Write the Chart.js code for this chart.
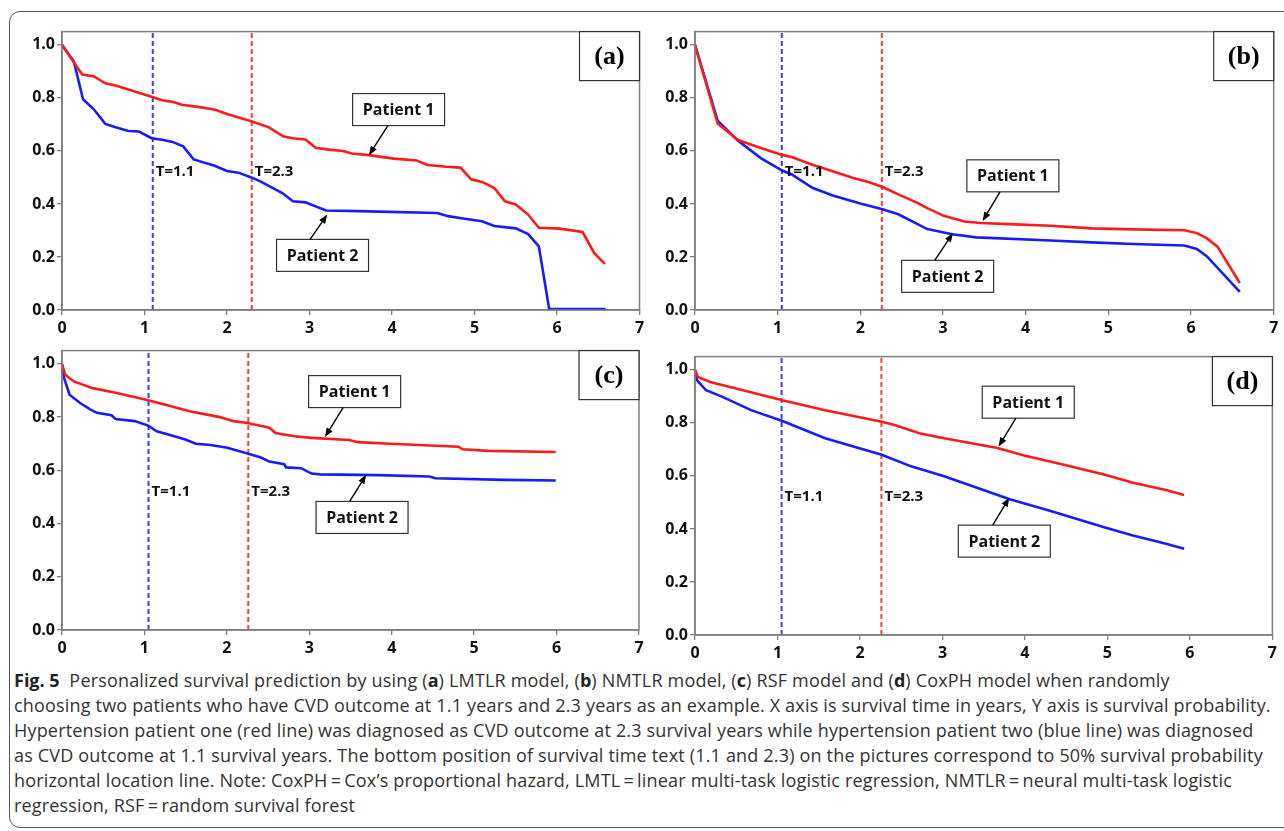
<!DOCTYPE html>
<html>
<head>
<meta charset="utf-8">
<script src="https://cdn.jsdelivr.net/npm/chart.js@4.4.0/dist/chart.umd.min.js"></script>
<style>
  html, body { margin: 0; padding: 0; background: #fff; width: 1284px; height: 831px; overflow: hidden; }
  .frame { position: absolute; left: 9px; top: 11px; width: 1300px; height: 815px; border: 1px solid #555; border-radius: 11px; }
  .panel { position: absolute; }
  .caption { position: absolute; left: 14px; top: 668px; width: 1270px; font-family: "Open Sans", sans-serif; font-size: 18px; letter-spacing: 0.18px; line-height: 25px; color: #333; white-space: nowrap; }
  .caption b { font-weight: 700; color: #222; letter-spacing: 0; }
</style>
</head>
<body>
<div class="frame"></div>
<div class="panel" style="left:10px;top:20px;width:640px;height:315px"><canvas id="ca"></canvas></div>
<div class="panel" style="left:643px;top:20px;width:641px;height:315px"><canvas id="cb"></canvas></div>
<div class="panel" style="left:10px;top:339px;width:640px;height:316px"><canvas id="cc"></canvas></div>
<div class="panel" style="left:643px;top:345px;width:641px;height:315px"><canvas id="cd"></canvas></div>
<div class="caption">
  <div><b>Fig. 5</b>&nbsp; Personalized survival prediction by using (<b>a</b>) LMTLR model, (<b>b</b>) NMTLR model, (<b>c</b>) RSF model and (<b>d</b>) CoxPH model when randomly</div>
  <div>choosing two patients who have CVD outcome at 1.1 years and 2.3 years as an example. X axis is survival time in years, Y axis is survival probability.</div>
  <div>Hypertension patient one (red line) was diagnosed as CVD outcome at 2.3 survival years while hypertension patient two (blue line) was diagnosed</div>
  <div>as CVD outcome at 1.1 survival years. The bottom position of survival time text (1.1 and 2.3) on the pictures correspond to 50% survival probability</div>
  <div>horizontal location line. Note: CoxPH&#8201;=&#8201;Cox’s proportional hazard, LMTL&#8201;=&#8201;linear multi-task logistic regression, NMTLR&#8201;=&#8201;neural multi-task logistic</div>
  <div>regression, RSF&#8201;=&#8201;random survival forest</div>
</div>
<script>
// survival curves, [time in years, survival probability]
const lmtlrP1 = [[0,1.0],[0.245,0.888],[0.383,0.882],[0.525,0.855],[0.65,0.847],[1.086,0.804],[1.214,0.791],[1.34,0.785],[1.453,0.774],[1.647,0.766],[1.86,0.755],[2.0,0.739],[2.295,0.712],[2.51,0.689],[2.68,0.655],[2.795,0.648],[2.95,0.643],[3.075,0.612],[3.23,0.605],[3.41,0.6],[3.51,0.59],[3.72,0.584],[4.02,0.571],[4.3,0.564],[4.43,0.547],[4.66,0.54],[4.83,0.537],[4.96,0.493],[5.1,0.482],[5.24,0.46],[5.37,0.41],[5.5,0.398],[5.65,0.36],[5.78,0.31],[6.03,0.307],[6.31,0.294],[6.45,0.215],[6.58,0.174]];
const lmtlrP2 = [[0,1.0],[0.143,0.938],[0.255,0.795],[0.383,0.758],[0.525,0.702],[0.65,0.689],[0.806,0.675],[0.933,0.673],[1.086,0.648],[1.214,0.642],[1.34,0.634],[1.469,0.617],[1.596,0.568],[1.85,0.544],[2.0,0.524],[2.14,0.518],[2.295,0.5],[2.41,0.484],[2.67,0.441],[2.8,0.41],[2.95,0.406],[3.2,0.375],[3.585,0.373],[4.55,0.366],[4.68,0.354],[4.86,0.345],[5.09,0.335],[5.24,0.317],[5.5,0.308],[5.65,0.286],[5.78,0.24],[5.905,0.004],[6.59,0.004]];
const nmtlrP1 = [[0,1.0],[0.274,0.703],[0.522,0.641],[0.77,0.614],[1.054,0.585],[1.17,0.577],[1.42,0.548],[1.666,0.523],[1.915,0.498],[2.11,0.482],[2.268,0.464],[2.46,0.436],[2.685,0.405],[2.81,0.384],[3.01,0.355],[3.26,0.334],[3.455,0.328],[3.8,0.324],[4.3,0.318],[4.8,0.308],[5.3,0.304],[5.92,0.301],[6.07,0.29],[6.19,0.271],[6.32,0.239],[6.59,0.102]];
const nmtlrP2 = [[0,1.0],[0.274,0.714],[0.522,0.638],[0.796,0.573],[1.054,0.526],[1.17,0.511],[1.42,0.461],[1.666,0.432],[2.01,0.401],[2.268,0.38],[2.46,0.361],[2.81,0.305],[3.11,0.286],[3.406,0.274],[4.3,0.262],[4.8,0.255],[5.3,0.249],[5.92,0.243],[6.07,0.23],[6.19,0.203],[6.59,0.068]];
const rsfP1 = [[0,1.0],[0.04,0.959],[0.143,0.934],[0.373,0.909],[0.679,0.89],[1.046,0.863],[1.29,0.844],[1.547,0.822],[1.9,0.801],[2.08,0.785],[2.25,0.778],[2.516,0.76],[2.59,0.74],[2.82,0.728],[3.03,0.722],[3.486,0.714],[3.59,0.706],[3.99,0.7],[4.81,0.689],[4.86,0.679],[5.17,0.673],[5.99,0.669]];
const rsfP2 = [[0,1.0],[0.026,0.946],[0.092,0.884],[0.22,0.853],[0.347,0.828],[0.424,0.816],[0.6,0.807],[0.65,0.793],[0.883,0.785],[1.046,0.768],[1.149,0.747],[1.29,0.735],[1.496,0.716],[1.623,0.7],[1.802,0.695],[2.006,0.685],[2.25,0.663],[2.414,0.648],[2.516,0.633],[2.695,0.623],[2.72,0.611],[2.9,0.608],[3.027,0.588],[3.13,0.585],[3.84,0.582],[4.456,0.577],[4.53,0.57],[5.375,0.564],[5.99,0.562]];
const coxP1 = [[0,1.0],[0.035,0.973],[0.184,0.954],[0.582,0.923],[1.06,0.885],[1.577,0.848],[2.264,0.804],[2.42,0.792],[2.72,0.761],[3.02,0.742],[3.667,0.705],[3.99,0.677],[4.46,0.643],[4.96,0.605],[5.31,0.574],[5.71,0.547],[5.93,0.528]];
const coxP2 = [[0,1.0],[0.025,0.96],[0.134,0.923],[0.333,0.898],[0.68,0.848],[1.06,0.807],[1.577,0.742],[2.264,0.68],[2.62,0.636],[3.02,0.599],[3.418,0.555],[3.816,0.512],[4.313,0.468],[4.96,0.406],[5.31,0.375],[5.71,0.344],[5.93,0.325]];

// outcome times marked by dashed lines
const outcomeTimesA = [1.1, 2.3];
const outcomeTimesBCD = [1.05, 2.26];
const outcomeLabels = ['T=1.1', 'T=2.3'];
const xTicks = [0, 1, 2, 3, 4, 5, 6, 7];
const yTicks = [0, 0.2, 0.4, 0.6, 0.8, 1.0];

const RED = '#ff1a1a', BLUE = '#1a1aff';

// annotation boxes: centre (x, y), arrow start x on box edge, arrow tip (x, y)
const panels = [
  { id: 'ca', tag: '(a)', p1: lmtlrP1, p2: lmtlrP2, marks: outcomeTimesA, pad: { top: 8, right: 10.5 },
    boxes: [{ text: 'Patient 1', cx: 4.08, cy: 0.756, ax: 3.95, tx: 3.72, ty: 0.584 },
            { text: 'Patient 2', cx: 3.158, cy: 0.206, ax: 3.007, tx: 3.215, ty: 0.36 }] },
  { id: 'cb', tag: '(b)', p1: nmtlrP1, p2: nmtlrP2, marks: outcomeTimesBCD, pad: { top: 8, right: 10.3 },
    boxes: [{ text: 'Patient 1', cx: 3.845, cy: 0.506, ax: 3.69, tx: 3.48, ty: 0.336 },
            { text: 'Patient 2', cx: 3.056, cy: 0.127, ax: 2.9, tx: 3.12, ty: 0.29 }] },
  { id: 'cc', tag: '(c)', p1: rsfP1, p2: rsfP2, marks: outcomeTimesBCD, pad: { top: 8.3, right: 11 },
    boxes: [{ text: 'Patient 1', cx: 3.55, cy: 0.896, ax: 3.41, tx: 3.19, ty: 0.725 },
            { text: 'Patient 2', cx: 3.64, cy: 0.423, ax: 3.49, tx: 3.69, ty: 0.583 }] },
  { id: 'cd', tag: '(d)', p1: coxP1, p2: coxP2, marks: outcomeTimesBCD, pad: { top: 8.3, right: 11.6 },
    boxes: [{ text: 'Patient 1', cx: 4.04, cy: 0.878, ax: 3.89, tx: 3.68, ty: 0.711 },
            { text: 'Patient 2', cx: 3.75, cy: 0.354, ax: 3.61, tx: 3.81, ty: 0.518 }] }
];

const toXY = arr => arr.map(p => ({ x: p[0], y: p[1] }));

const extrasPlugin = {
  id: 'extras',
  afterDatasetsDraw(chart) {
    const cfg = chart.options.plugins.extras;
    const { ctx, chartArea: a, scales: { x, y } } = chart;
    ctx.save();
    // frame round plot area
    ctx.strokeStyle = '#7f7f7f';
    ctx.lineWidth = 1.5;
    ctx.strokeRect(a.left, a.top, a.right - a.left, a.bottom - a.top);
    // T= labels
    ctx.fillStyle = '#111';
    ctx.font = 'bold 15px "Open Sans"';
    ctx.textBaseline = 'alphabetic';
    ctx.textAlign = 'left';
    cfg.marks.forEach((m, i) => {
      ctx.fillText(outcomeLabels[i], x.getPixelForValue(m) + 3, y.getPixelForValue(0.5) - 1);
    });
    // patient boxes + arrows
    cfg.boxes.forEach(b => {
      const cx = x.getPixelForValue(b.cx), cy = y.getPixelForValue(b.cy);
      const w = 92, h = 32;
      ctx.fillStyle = '#fff';
      ctx.fillRect(cx - w / 2, cy - h / 2, w, h);
      ctx.strokeStyle = '#333';
      ctx.lineWidth = 1.2;
      ctx.strokeRect(cx - w / 2, cy - h / 2, w, h);
      ctx.fillStyle = '#111';
      ctx.font = 'bold 16px "Open Sans"';
      ctx.textAlign = 'center';
      ctx.textBaseline = 'middle';
      ctx.fillText(b.text, cx, cy + 1);
      const tx = x.getPixelForValue(b.tx), ty = y.getPixelForValue(b.ty);
      const sx = x.getPixelForValue(b.ax), sy = ty > cy ? cy + h / 2 : cy - h / 2;
      const ang = Math.atan2(ty - sy, tx - sx);
      ctx.strokeStyle = '#000';
      ctx.lineWidth = 1.4;
      ctx.beginPath();
      ctx.moveTo(sx, sy);
      ctx.lineTo(tx - 7 * Math.cos(ang), ty - 7 * Math.sin(ang));
      ctx.stroke();
      ctx.fillStyle = '#000';
      ctx.beginPath();
      ctx.moveTo(tx, ty);
      ctx.lineTo(tx - 9 * Math.cos(ang) + 3.5 * Math.sin(ang), ty - 9 * Math.sin(ang) - 3.5 * Math.cos(ang));
      ctx.lineTo(tx - 9 * Math.cos(ang) - 3.5 * Math.sin(ang), ty - 9 * Math.sin(ang) + 3.5 * Math.cos(ang));
      ctx.closePath();
      ctx.fill();
    });
    // panel tag box in top right corner
    const bw = 60, bh = 49;
    ctx.fillStyle = '#fff';
    ctx.fillRect(a.right - bw, a.top, bw, bh);
    ctx.strokeStyle = '#333';
    ctx.lineWidth = 1.2;
    ctx.strokeRect(a.right - bw, a.top, bw, bh);
    ctx.fillStyle = '#000';
    ctx.font = 'bold 26px "Liberation Serif"';
    ctx.textAlign = 'center';
    ctx.textBaseline = 'middle';
    ctx.fillText(cfg.tag, a.right - bw / 2, a.top + bh / 2 + 1);
    ctx.restore();
  }
};

panels.forEach(p => {
  const datasets = [
    { data: toXY(p.p1), borderColor: RED, borderWidth: 2.6, order: 1 },
    { data: toXY(p.p2), borderColor: BLUE, borderWidth: 2.6, order: 1 }
  ];
  p.marks.forEach((m, i) => {
    datasets.push({
      data: [{ x: m, y: 0 }, { x: m, y: 1.05 }],
      borderColor: i === 0 ? '#3b3bff' : '#ff3b3b',
      borderWidth: 2,
      borderDash: [5, 3],
      order: 2
    });
  });
  new Chart(document.getElementById(p.id), {
    type: 'line',
    data: { datasets },
    options: {
      responsive: true,
      maintainAspectRatio: false,
      animation: false,
      layout: { padding: { top: p.pad.top, right: p.pad.right, left: 0, bottom: 0 } },
      elements: { point: { radius: 0 }, line: { tension: 0, fill: false } },
      plugins: { legend: { display: false }, tooltip: { enabled: false }, extras: { tag: p.tag, marks: p.marks, boxes: p.boxes } },
      scales: {
        x: {
          type: 'linear', min: 0, max: 7,
          afterBuildTicks: s => { s.ticks = xTicks.map(v => ({ value: v })); },
          afterFit: s => { s.height = 25; },
          grid: { drawOnChartArea: false, drawTicks: true, tickLength: 5, color: '#7f7f7f', lineWidth: 1.3 },
          border: { color: '#7f7f7f', width: 1.5 },
          ticks: { color: '#111', font: { family: 'Open Sans', weight: 'bold', size: 16 }, padding: 4, maxRotation: 0, callback: v => String(v) }
        },
        y: {
          type: 'linear', min: 0, max: 1.05,
          afterBuildTicks: s => { s.ticks = yTicks.map(v => ({ value: v })); },
          afterFit: s => { s.width = 52; },
          grid: { drawOnChartArea: false, drawTicks: true, tickLength: 5, color: '#7f7f7f', lineWidth: 1.3 },
          border: { color: '#7f7f7f', width: 1.5 },
          ticks: { color: '#111', font: { family: 'Open Sans', weight: 'bold', size: 16 }, padding: 2, callback: v => v.toFixed(1) }
        }
      }
    },
    plugins: [extrasPlugin]
  });
});
</script>
</body>
</html>
